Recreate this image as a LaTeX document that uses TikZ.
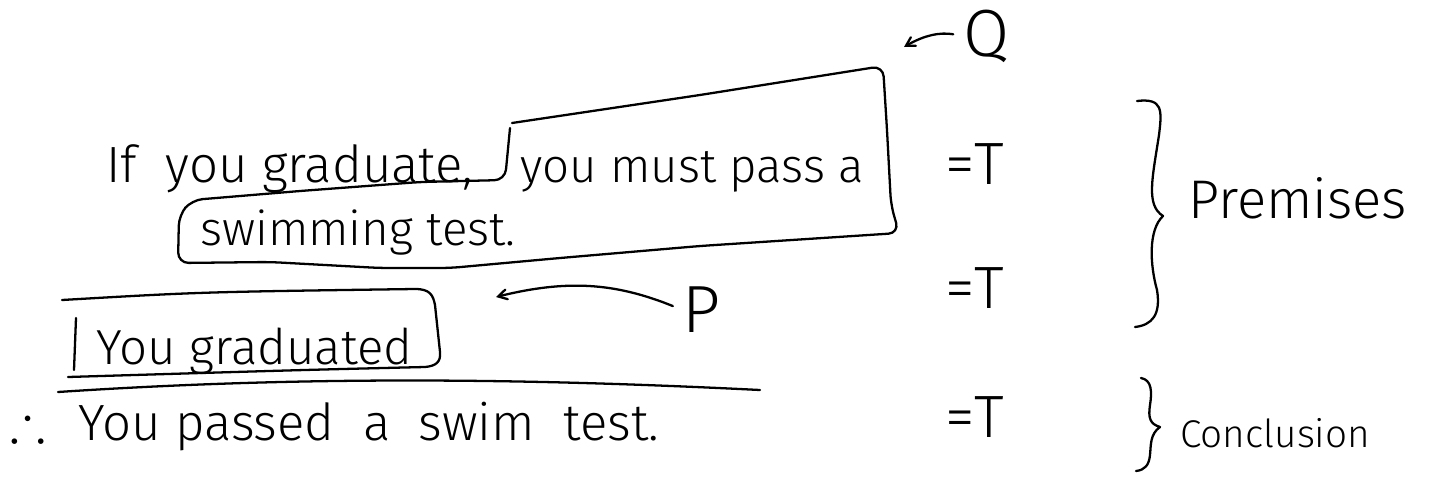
\documentclass[tikz,border=0pt]{standalone}
\usepackage{amsmath,amssymb}
\usepackage{fontspec}
\setmainfont{Fira Sans Light}
\usepackage{tikz}
\usetikzlibrary{positioning}
\usetikzlibrary{shapes}
\usetikzlibrary{arrows}

\tikzset{
    pen/.style = {line width = 1.3pt, line cap = round, line join = round},
    hand/.style = {draw = none, anchor = base west, inner sep = 0pt, font = \fontsize{29}{33}\selectfont},
    truth/.style = {draw = none, anchor = base, inner sep = 0pt, font = \fontsize{34}{38}\selectfont},
    letter/.style = {draw = none, inner sep = 0pt, font = \fontsize{38}{42}\selectfont}
}

\begin{document}
\begin{tikzpicture}[x = 0.02cm, y = -0.02cm]
    \useasboundingbox (0,0) rectangle (1429,490);

    \node[hand] at (106,182) (ifpart) {If \ you graduate,} ;
    \node[hand, font = \fontsize{27}{31}\selectfont] at (520,182) (thenpart) {you must pass a} ;
    \node[hand, font = \fontsize{27}{31}\selectfont] at (200,245) (swimpart) {swimming test.} ;
    \node[hand, font = \fontsize{28}{32}\selectfont] at (96,364) (gradtext) {You graduated} ;
    \node[draw = none, anchor = base, inner sep = 0pt, font = \fontsize{30}{34}\selectfont] at (28,440) (therefore) {$\therefore$} ;
    \node[hand] at (78,440) (conctext) {You passed \ a \ swim \ test.} ;

    \node[letter] at (987,36) (qlabel) {Q} ;
    \node[letter] at (702,310) (plabel) {P} ;
    \coordinate (qtip) at (904,47) ;
    \coordinate (ptip) at (496,297) ;

    \node[truth] at (975,184) (truthone) {=T} ;
    \node[truth] at (975,308) (truthtwo) {=T} ;
    \node[truth] at (975,437) (truththree) {=T} ;

    \node[hand, font = \fontsize{31}{35}\selectfont] at (1188,218) (premises) {Premises} ;
    \node[hand, font = \fontsize{22}{26}\selectfont] at (1180,447) (conclusion) {Conclusion} ;

    \draw[pen, rounded corners = 6] (512,123) -- (700,95) -- (883,66)
        -- (887,130) -- (891,205) -- (899,233) -- (700,246) -- (560,258) -- (450,268)
        -- (380,268) -- (270,262) -- (178,263) -- (179,215) -- (192,200) -- (300,191)
        -- (420,182) -- (505,180) -- (510,128) ;

    \draw[pen] (62,300) .. controls (200,292) .. (415,289)
        .. controls (430,289) and (433,295) .. (435,305) -- (440,352)
        .. controls (441,362) and (436,366) .. (425,367)
        .. controls (300,370) .. (68,377) ;
    \draw[pen] (76,318) -- (74,370) ;

    \draw[pen] (58,392) .. controls (300,376) and (520,378) .. (760,390) ;

    \draw[pen, -angle 60, shorten <= 6pt] (qlabel.west) to[bend right = 20] (qtip) ;
    \draw[pen, -angle 60, shorten <= 6pt] (plabel.west) to[bend right = 18] (ptip) ;

    \draw[pen] (1137,101) .. controls (1163,98) and (1162,110) .. (1159,135)
        .. controls (1152,180) and (1146,205) .. (1163,216)
        .. controls (1148,230) and (1150,265) .. (1157,290)
        .. controls (1161,315) and (1152,325) .. (1135,327) ;
    \draw[pen] (1141,378) .. controls (1152,380) and (1152,392) .. (1150,405)
        .. controls (1148,418) and (1150,424) .. (1160,427)
        .. controls (1150,434) and (1151,445) .. (1150,455)
        .. controls (1149,465) and (1145,470) .. (1136,471) ;
\end{tikzpicture}
\end{document}
